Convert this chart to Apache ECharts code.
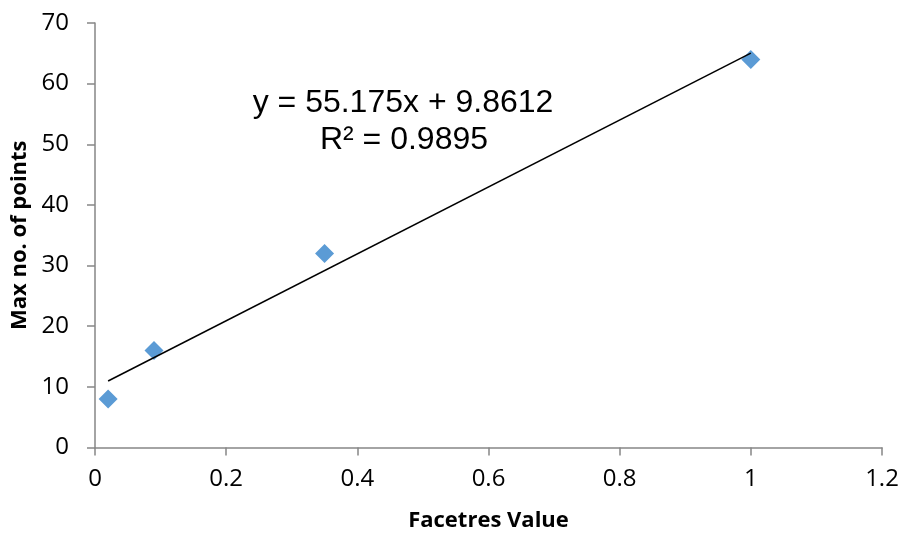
<!DOCTYPE html>
<html>
<head>
<meta charset="utf-8">
<script src="https://cdn.jsdelivr.net/npm/echarts@6/dist/echarts.min.js"></script>
<style>html,body{margin:0;padding:0;background:#fff}#c{width:902px;height:534px}</style>
</head>
<body>
<div id="c"></div>
<script>
const xValues = [0.02, 0.09, 0.35, 1.0];
const yValues = [8, 16, 32, 64];
const trendX = [0.02, 1.0];
const trendY = [10.96, 65.04];
const equationLines = ['y = 55.175x + 9.8612', 'R² = 0.9895'];
const xAxisTitle = 'Facetres Value';
const yAxisTitle = 'Max no. of points';

const chart = echarts.init(document.getElementById('c'), null, {renderer: 'canvas'});
const axisColor = '#868686';
const labelFont = {color: '#000', fontFamily: 'Open Sans', fontSize: 24};
const titleFont = {fontFamily: 'Open Sans', fontWeight: 'bold', fontSize: 22, color: '#000'};
chart.setOption({
  animation: false,
  backgroundColor: '#fff',
  grid: {left: 95, right: 20, top: 23, bottom: 86.5, containLabel: false, outerBoundsMode: 'none'},
  xAxis: {
    type: 'value', min: 0, max: 1.2, interval: 0.2,
    axisLine: {show: true, lineStyle: {color: axisColor, width: 1.5}},
    axisTick: {show: true, length: 8, inside: false, lineStyle: {color: axisColor, width: 1.5}},
    splitLine: {show: false},
    axisLabel: Object.assign({margin: 20, formatter: v => String(+v.toFixed(1))}, labelFont),
    name: xAxisTitle, nameLocation: 'middle', nameGap: 62,
    nameTextStyle: titleFont
  },
  yAxis: {
    type: 'value', min: 0, max: 70, interval: 10,
    axisLine: {show: true, lineStyle: {color: axisColor, width: 1.5}},
    axisTick: {show: true, length: 8, inside: false, lineStyle: {color: axisColor, width: 1.5}},
    splitLine: {show: false},
    axisLabel: Object.assign({margin: 26}, labelFont),
    name: yAxisTitle, nameLocation: 'middle', nameGap: 57, nameRotate: 90,
    nameTextStyle: titleFont
  },
  series: [
    {
      type: 'line',
      data: trendX.map((x, i) => [x, trendY[i]]),
      symbol: 'none',
      lineStyle: {color: '#000', width: 1.5},
      z: 3
    },
    {
      type: 'scatter',
      data: xValues.map((x, i) => [x, yValues[i]]),
      symbol: 'diamond',
      symbolSize: [19, 19],
      itemStyle: {color: '#5B9BD5', opacity: 1},
      z: 2
    }
  ],
  graphic: [
    {type: 'text', x: 403, y: 103, style: {text: equationLines[0], fontFamily: 'Liberation Sans', fontSize: 32, fill: '#000', align: 'center', verticalAlign: 'middle'}},
    {type: 'text', x: 404, y: 140, style: {text: equationLines[1], fontFamily: 'Liberation Sans', fontSize: 32, fill: '#000', align: 'center', verticalAlign: 'middle'}}
  ]
});
</script>
</body>
</html>
